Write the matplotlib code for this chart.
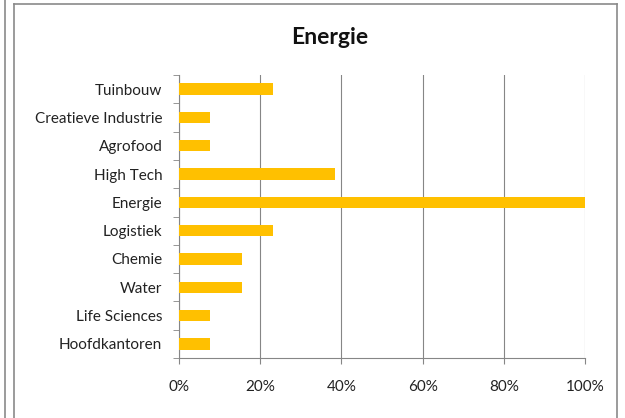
import matplotlib
matplotlib.use('Agg')
import matplotlib.pyplot as plt
from matplotlib.lines import Line2D
import numpy as np

# categories listed top to bottom, share of projects (%)
categories = ['Tuinbouw', 'Creatieve Industrie', 'Agrofood', 'High Tech', 'Energie',
              'Logistiek', 'Chemie', 'Water', 'Life Sciences', 'Hoofdkantoren']
values = [23.1, 7.7, 7.7, 38.5, 100.0, 23.1, 15.4, 15.4, 7.7, 7.7]
xticks = [0, 20, 40, 60, 80, 100]
xtick_labels = ['0%', '20%', '40%', '60%', '80%', '100%']

plt.rcParams['font.family'] = ['Lato', 'DejaVu Sans']

W, H = 625, 418
fig = plt.figure(figsize=(W / 100, H / 100), dpi=100)
ax = fig.add_axes([179 / W, 1 - 358 / H, (585 - 179) / W, (358 - 75) / H])

y = np.arange(len(categories))
ax.barh(y, values, height=0.4, color='#FFC000', zorder=3)
ax.set_ylim(len(categories) - 0.5, -0.5)
ax.set_xlim(0, 100)

ax.set_xticks(xticks)
ax.set_xticklabels(xtick_labels, fontsize=11, color='#222222')
ax.set_yticks(y)
ax.set_yticklabels(categories, fontsize=11, color='#222222')
ax.tick_params(axis='y', length=0, pad=12)
ax.tick_params(axis='x', length=4, color='#868686', pad=12)
# category boundary ticks on the left axis
ax.set_yticks(np.arange(-0.5, len(categories), 1), minor=True)
ax.tick_params(axis='y', which='minor', length=4, color='#868686')

ax.grid(axis='x', color='#868686', linewidth=0.8, zorder=0)
for s in ['top', 'right']:
    ax.spines[s].set_visible(False)
ax.spines['left'].set_color('#868686')
ax.spines['bottom'].set_color('#868686')

fig.text(330 / W, 1 - 38 / H, 'Energie', ha='center', va='center',
         fontsize=16.5, fontweight='bold', color='#111111')

# chart frame and edge of neighbouring chart
frame = '#8a8a8a'
fig.add_artist(Line2D([14 / W, 14 / W], [0, 1 - 4 / H], color=frame, lw=1.2))
fig.add_artist(Line2D([14 / W, 617 / W], [1 - 4 / H, 1 - 4 / H], color=frame, lw=1.2))
fig.add_artist(Line2D([617 / W, 617 / W], [0, 1 - 4 / H], color=frame, lw=1.2))
fig.add_artist(Line2D([5 / W, 5 / W], [0, 1], color=frame, lw=1.2))

fig.savefig('out.png', dpi=100)
